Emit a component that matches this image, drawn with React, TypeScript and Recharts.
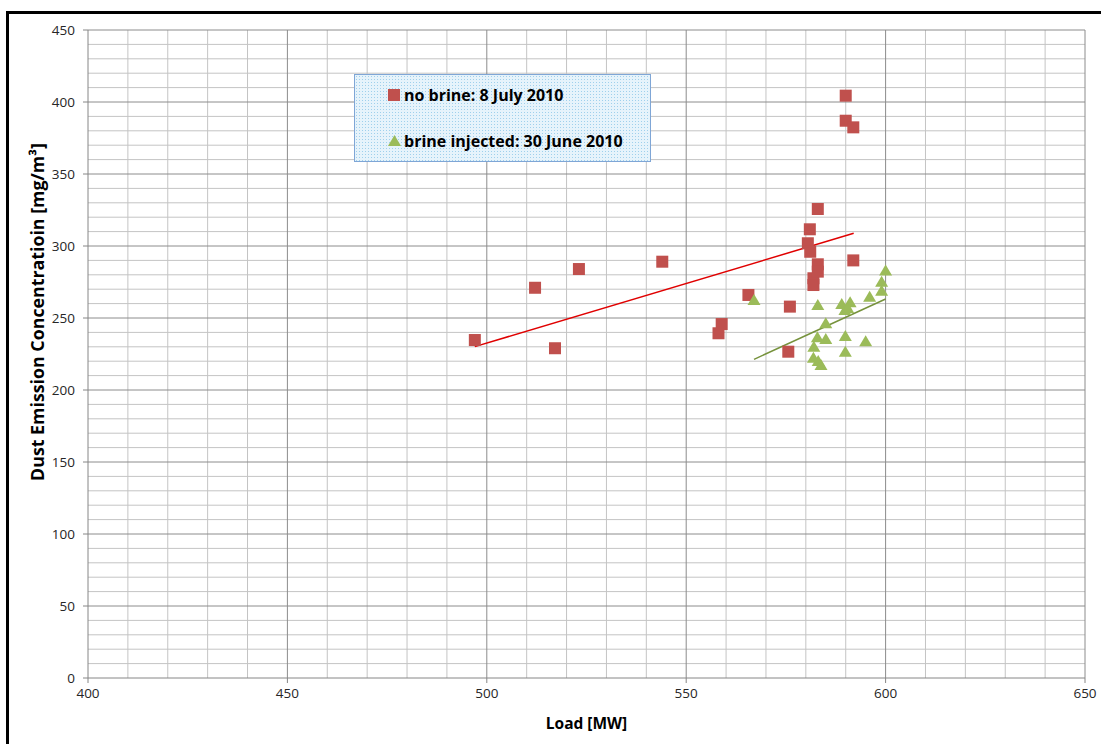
import React from 'react';
import { ScatterChart, Scatter, XAxis, YAxis, ReferenceLine, Legend } from 'recharts';

// values
const loadTicks = [400, 450, 500, 550, 600, 650];
const dustTicks = [0, 50, 100, 150, 200, 250, 300, 350, 400, 450];
const loadMinor = [410, 420, 430, 440, 460, 470, 480, 490, 510, 520, 530, 540, 560, 570, 580, 590, 610, 620, 630, 640];
const dustMinor = [10, 20, 30, 40, 60, 70, 80, 90, 110, 120, 130, 140, 160, 170, 180, 190, 210, 220, 230, 240, 260, 270, 280, 290, 310, 320, 330, 340, 360, 370, 380, 390, 410, 420, 430, 440];

const noBrineLoad = [497.0, 512.1, 517.1, 523.1, 544.0, 558.1, 558.9, 565.6, 575.6, 576.0, 580.5, 581.1, 581.0, 581.9, 581.9, 583.0, 583.0, 583.0, 590.0, 590.0, 591.9, 591.9];
const noBrineDust = [234.7, 271.0, 229.0, 284.0, 289.1, 239.4, 245.8, 266.0, 226.6, 257.9, 301.9, 296.0, 311.6, 277.6, 272.9, 325.7, 287.3, 282.2, 404.4, 387.0, 382.4, 290.0];

const brineLoad = [567.0, 583.0, 589.0, 591.1, 589.8, 590.5, 596.0, 599.0, 599.0, 600.0, 585.0, 582.9, 585.0, 589.9, 595.0, 582.0, 589.9, 581.9, 583.1, 583.8];
const brineDust = [262.5, 259.0, 259.7, 260.9, 255.6, 257.0, 264.8, 275.2, 268.9, 282.9, 246.3, 236.6, 235.4, 237.5, 233.8, 230.1, 226.6, 222.4, 220.1, 217.4];

const noBrineTrendLoad = [497, 592];
const noBrineTrendDust = [230.1, 308.8];
const brineTrendLoad = [567, 600];
const brineTrendDust = [221.3, 263.2];

const toPoints = (xs: number[], ys: number[]) => xs.map((x, i) => ({ x, y: ys[i] }));

const RED = '#c0504d';
const GREEN = '#9bbb59';
const FONT = '"Open Sans", "Noto Sans", sans-serif';

const SquareDot = (props: any) => {
  const { cx, cy } = props;
  return <rect x={cx - 6} y={cy - 6} width={12} height={12} fill={RED} />;
};

const TriangleDot = (props: any) => {
  const { cx, cy } = props;
  return <polygon points={`${cx},${cy - 6} ${cx + 6.5},${cy + 5} ${cx - 6.5},${cy + 5}`} fill={GREEN} />;
};

const NoDot = () => <g />;

const LegendBox = () => (
  <div
    style={{
      width: '100%',
      height: '100%',
      boxSizing: 'border-box',
      border: '1px solid #7fa6d6',
      backgroundColor: '#e6f3fb',
      backgroundImage: 'radial-gradient(#9fd0ec 0.9px, transparent 1px)',
      backgroundSize: '3px 3px',
      fontFamily: FONT,
      fontWeight: 700,
      fontSize: 16,
      color: '#000',
      position: 'relative',
    }}
  >
    <div style={{ position: 'absolute', left: 33, top: 9, display: 'flex', alignItems: 'center' }}>
      <svg width={12} height={12} style={{ marginRight: 4 }}>
        <rect width={12} height={12} fill={RED} />
      </svg>
      <span>no brine: 8 July 2010</span>
    </div>
    <div style={{ position: 'absolute', left: 33, top: 55, display: 'flex', alignItems: 'center' }}>
      <svg width={13} height={12} style={{ marginRight: 3 }}>
        <polygon points="6.5,0 13,11 0,11" fill={GREEN} />
      </svg>
      <span>brine injected: 30 June 2010</span>
    </div>
  </div>
);

export default function App() {
  const axisStroke = '#868686';
  const tickStyle = { fill: '#262626', fontSize: 13.5, fontFamily: FONT };

  return (
    <div style={{ position: 'absolute', left: 0, top: 0, width: 1101, height: 744, background: '#fff', overflow: 'hidden' }}>
      <div
        style={{
          position: 'absolute',
          left: 6,
          top: 11,
          width: 1200,
          height: 900,
          borderTop: '3px solid #000',
          borderLeft: '3px solid #000',
        }}
      />
      <ScatterChart width={1101} height={744} margin={{ top: 30, right: 16, bottom: 26, left: 28 }}>
        <XAxis
          type="number"
          dataKey="x"
          domain={[400, 650]}
          ticks={loadTicks}
          allowDataOverflow
          stroke={axisStroke}
          tick={tickStyle}
          tickSize={5}
          tickMargin={5}
          height={40}
          label={{
            content: ({ viewBox }: any) => (
              <text
                x={viewBox.x + viewBox.width / 2}
                y={723}
                textAnchor="middle"
                dominantBaseline="central"
                fontFamily={FONT}
                fontWeight={700}
                fontSize={15.5}
                fill="#000"
              >
                Load [MW]
              </text>
            ),
          }}
        />
        <YAxis
          type="number"
          dataKey="y"
          domain={[0, 450]}
          ticks={dustTicks}
          allowDataOverflow
          stroke={axisStroke}
          tick={tickStyle}
          tickSize={5}
          tickMargin={8}
          width={60}
          label={{
            content: () => {
              const cx = 37;
              const cy = 312;
              return (
                <text
                  x={cx}
                  y={cy}
                  transform={`rotate(-90, ${cx}, ${cy})`}
                  textAnchor="middle"
                  dominantBaseline="central"
                  fontFamily={FONT}
                  fontWeight={700}
                  fontSize={17.8}
                  fill="#000"
                >
                  Dust Emission Concentratioin [mg/m³]
                </text>
              );
            },
          }}
        />
        {loadMinor.map(v => (
          <ReferenceLine key={`vx${v}`} x={v} stroke="#c4c4c4" strokeWidth={1} />
        ))}
        {dustMinor.map(v => (
          <ReferenceLine key={`hy${v}`} y={v} stroke="#c4c4c4" strokeWidth={1} />
        ))}
        {loadTicks.slice(1).map(v => (
          <ReferenceLine key={`VX${v}`} x={v} stroke="#8c8c8c" strokeWidth={1} />
        ))}
        {dustTicks.slice(1).map(v => (
          <ReferenceLine key={`HY${v}`} y={v} stroke="#8c8c8c" strokeWidth={1} />
        ))}
        <Legend
          verticalAlign="middle"
          layout="horizontal"
          content={() => <LegendBox />}
          wrapperStyle={{ left: 354, top: 74, width: 297, height: 88, position: 'absolute' }}
        />
        <Scatter
          name="no brine trend"
          data={toPoints(noBrineTrendLoad, noBrineTrendDust)}
          line={{ stroke: '#e00000', strokeWidth: 1.5 }}
          shape={NoDot}
          legendType="none"
          isAnimationActive={false}
        />
        <Scatter
          name="brine trend"
          data={toPoints(brineTrendLoad, brineTrendDust)}
          line={{ stroke: '#76923c', strokeWidth: 1.5 }}
          shape={NoDot}
          legendType="none"
          isAnimationActive={false}
        />
        <Scatter
          name="no brine: 8 July 2010"
          data={toPoints(noBrineLoad, noBrineDust)}
          shape={SquareDot}
          fill={RED}
          isAnimationActive={false}
        />
        <Scatter
          name="brine injected: 30 June 2010"
          data={toPoints(brineLoad, brineDust)}
          shape={TriangleDot}
          fill={GREEN}
          isAnimationActive={false}
        />
      </ScatterChart>
    </div>
  );
}
